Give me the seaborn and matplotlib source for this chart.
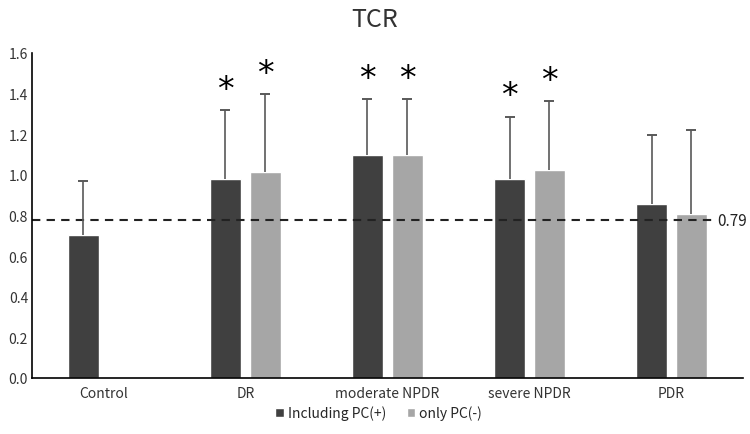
import numpy as np
import pandas as pd
import seaborn as sns
import matplotlib
matplotlib.use("Agg")
import matplotlib.pyplot as plt

# values
groups = ["Control", "DR", "moderate NPDR", "severe NPDR", "PDR"]
series = ["Including PC(+)", "only PC(-)"]
incl_mean = [0.706, 0.977, 1.099, 0.980, 0.854]
incl_sd = [0.263, 0.343, 0.275, 0.307, 0.341]
only_mean = [np.nan, 1.013, 1.099, 1.025, 0.808]
only_sd = [np.nan, 0.383, 0.275, 0.338, 0.414]
significant_incl = [False, True, True, True, False]
significant_only = [False, True, True, True, False]
ref_value = 0.775
ref_label = "0.79"

colors = ["#404040", "#A6A6A6"]

df = pd.DataFrame({
    "group": groups * 2,
    "series": [series[0]] * 5 + [series[1]] * 5,
    "mean": incl_mean + only_mean,
})

sns.set_style("white")
plt.rcParams["font.family"] = ["Noto Sans CJK JP", "DejaVu Sans"]

fig = plt.figure(figsize=(7.5, 4.35), dpi=100)
ax = fig.add_axes([0.043, 0.129, 0.947, 0.747])

width = 0.56
sns.barplot(data=df, x="group", y="mean", hue="series", order=groups,
            hue_order=series, palette=colors, width=width, gap=0.214,
            errorbar=None, saturation=1, ax=ax, legend=True)

# upper-only error bars with a cap, plus significance stars
offset = width / 4
x = np.arange(len(groups))
for means, sds, sig, sign in [(incl_mean, incl_sd, significant_incl, -1),
                              (only_mean, only_sd, significant_only, 1)]:
    m = np.array(means, dtype=float)
    s = np.array(sds, dtype=float)
    ok = ~np.isnan(m)
    xs = x[ok] + sign * offset
    ax.vlines(xs, m[ok], m[ok] + s[ok], color="#595959", lw=1.2, zorder=3)
    ax.plot(xs, m[ok] + s[ok], ls="none", marker="_", ms=7, mew=1.4,
            color="#595959", zorder=3)
    for xi, mi, si, flag in zip(x + sign * offset, m, s, sig):
        if flag:
            ax.annotate("*", (xi, mi + si), xytext=(0, 3),
                        textcoords="offset points", ha="center", va="bottom",
                        fontsize=24, family="DejaVu Sans", color="black")

ax.plot([-0.5, 4.3], [ref_value, ref_value], ls=(0, (4, 3)), color="#222222", lw=1.5)
ax.text(4.32, ref_value, ref_label, va="center", ha="left", fontsize=11, color="#222222")

ax.set_xlim(-0.5, 4.5)
ax.set_ylim(0, 1.6)
ax.set_yticks(np.arange(0, 1.61, 0.2))
ax.set_yticklabels([f"{v:.1f}" for v in np.arange(0, 1.61, 0.2)], fontsize=10, color="#333333")
ax.tick_params(axis="x", labelsize=10, colors="#333333", length=0, pad=6)
ax.tick_params(axis="y", length=0, pad=3)
ax.set_xlabel("")
ax.set_ylabel("")
for side in ["top", "right"]:
    ax.spines[side].set_visible(False)
ax.spines["left"].set_color("black")
ax.spines["bottom"].set_color("black")
ax.spines["left"].set_linewidth(1.2)
ax.spines["bottom"].set_linewidth(1.2)

handles, labels = ax.get_legend_handles_labels()
ax.legend_.remove()
fig.legend(handles, labels, loc="center", bbox_to_anchor=(0.505, 0.048), ncol=2,
           frameon=False, fontsize=10, handlelength=0.6, handleheight=0.6,
           handletextpad=0.3, columnspacing=1.5)

fig.text(0.5, 0.955, "TCR", ha="center", va="center", fontsize=18, color="#333333")

fig.savefig("out.png", dpi=100)
